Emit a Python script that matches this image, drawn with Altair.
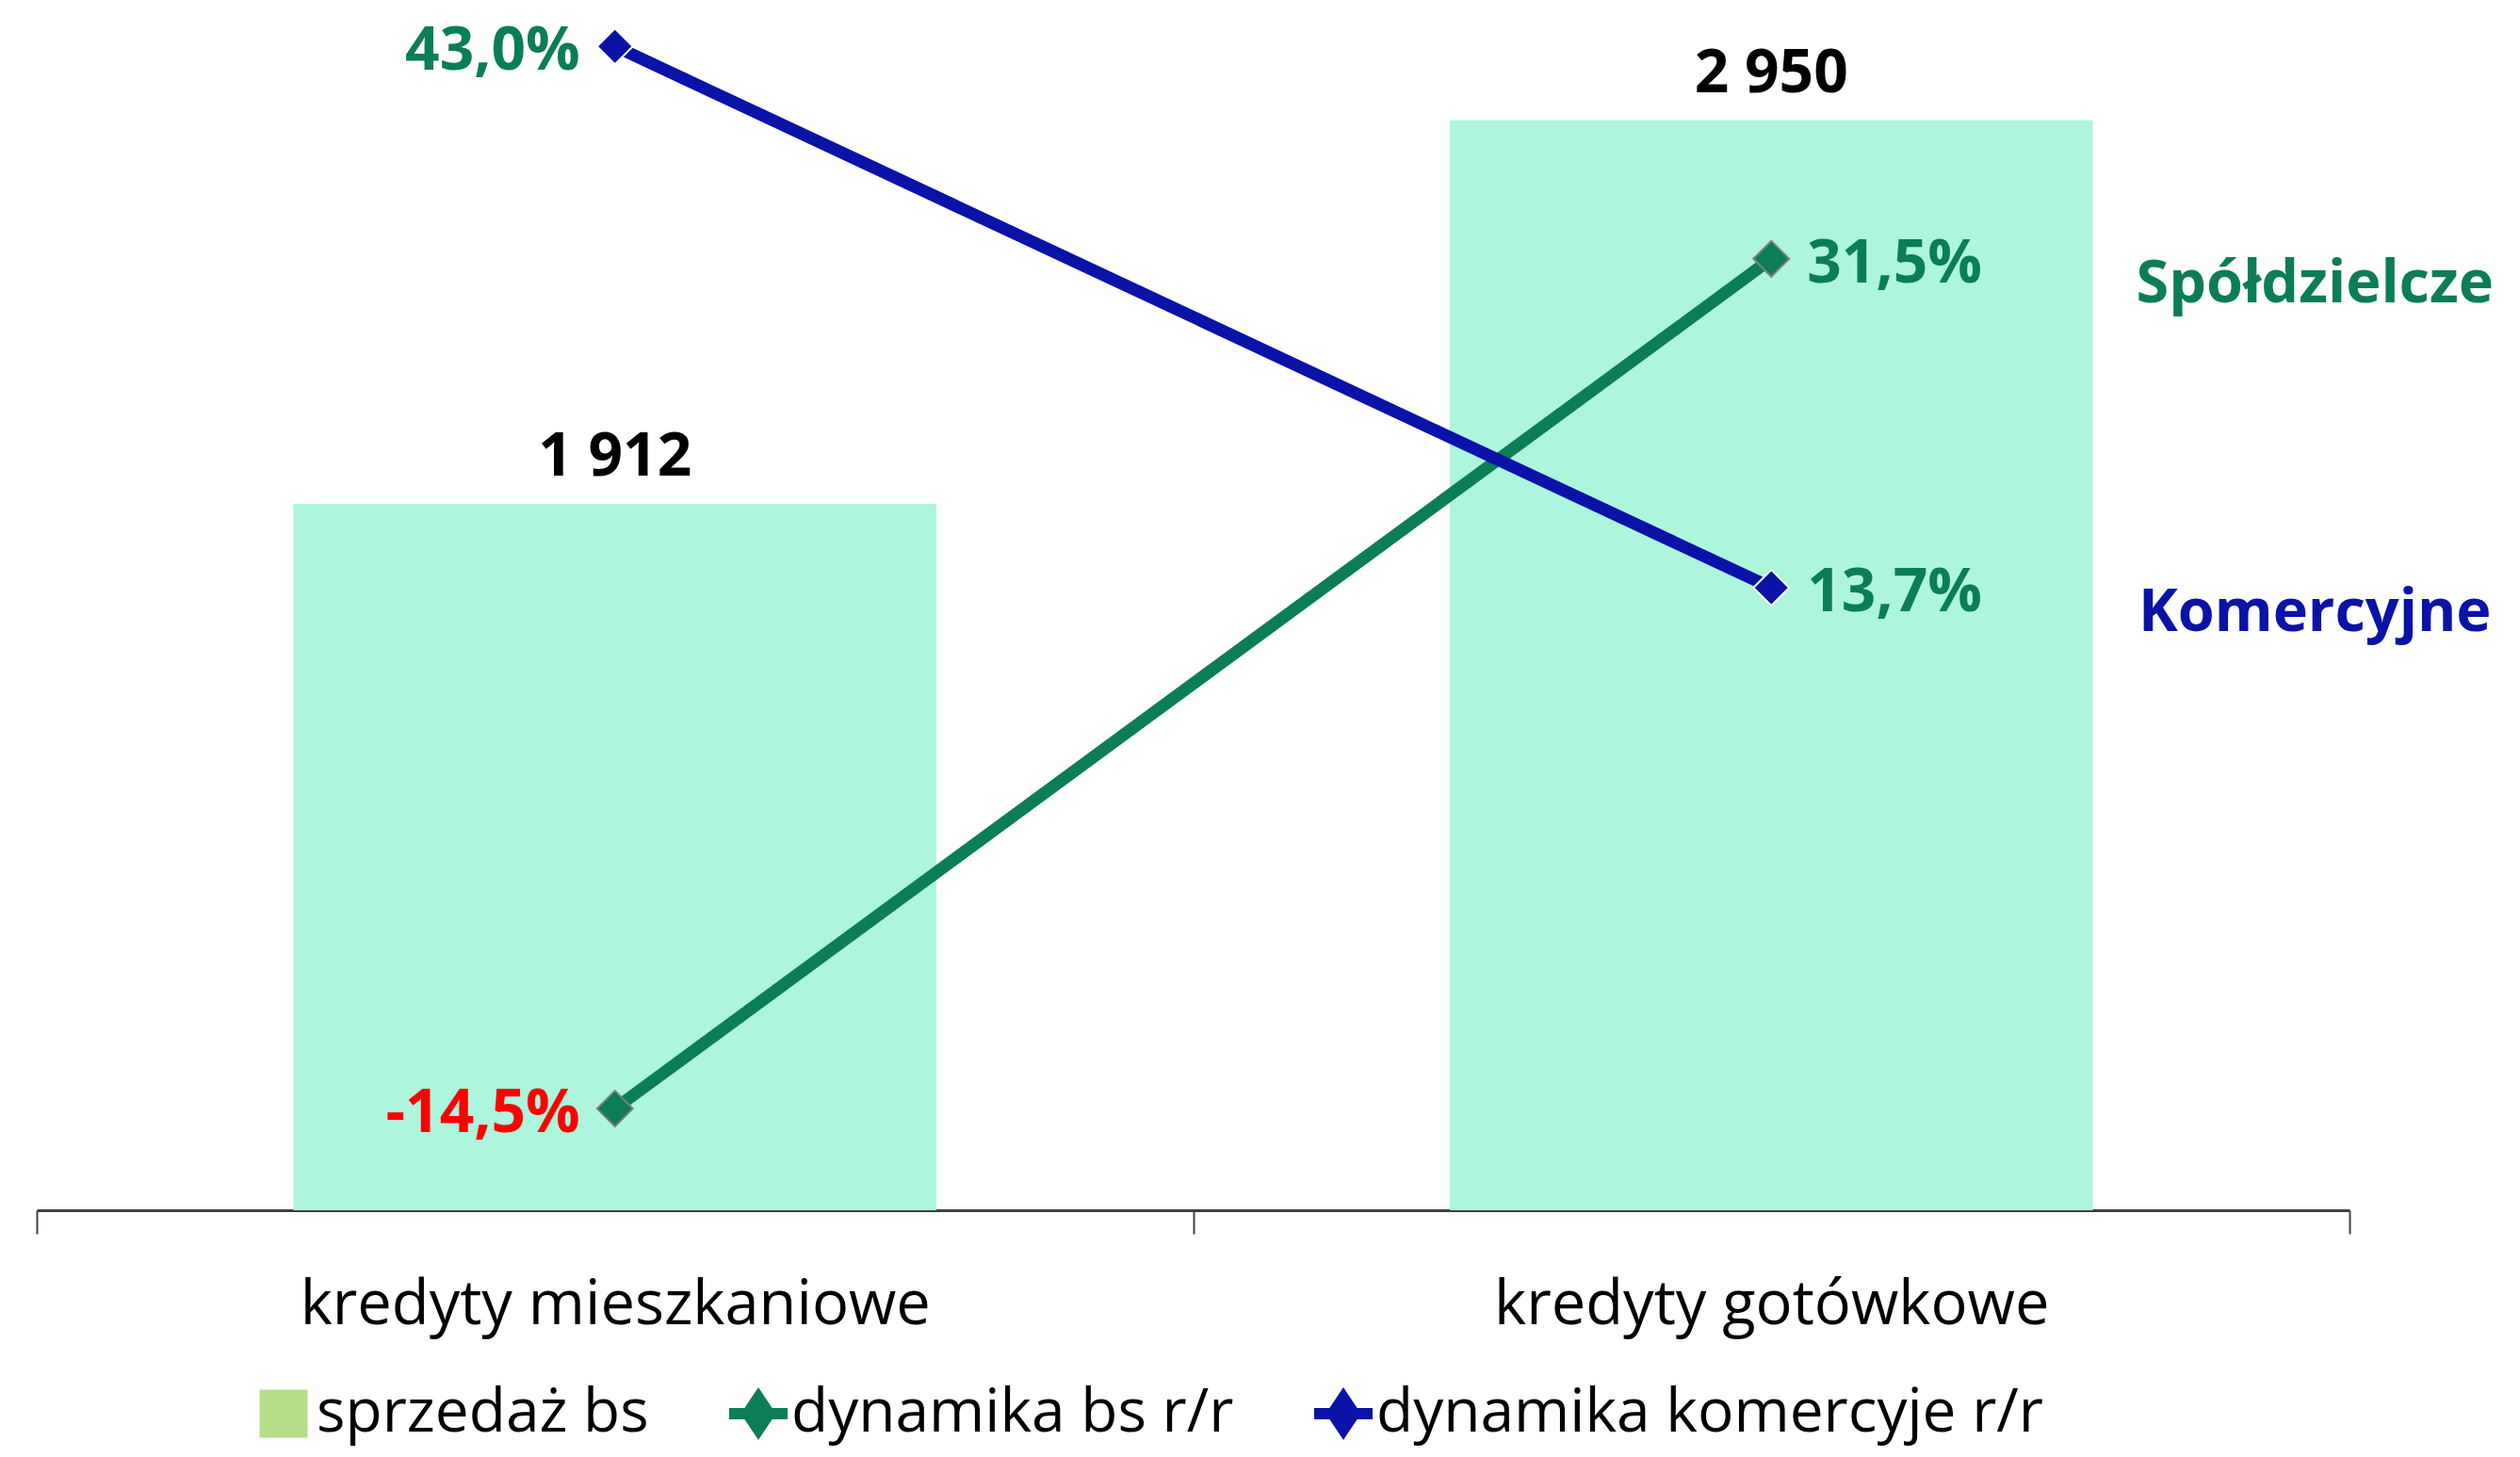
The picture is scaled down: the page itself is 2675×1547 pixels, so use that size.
import altair as alt
import pandas as pd

# ---------------- data ----------------
categories = ["kredyty mieszkaniowe", "kredyty gotówkowe"]
sales_bs = [1912, 2950]                 # sprzedaż bs (bars)
dyn_bs = [-14.5, 31.5]                  # dynamika bs r/r (%)
dyn_kom = [43.0, 13.7]                  # dynamika komercyje r/r (%)
line_series = ["dynamika bs r/r", "dynamika komercyje r/r"]
legend_names = ["sprzedaż bs", "dynamika bs r/r", "dynamika komercyje r/r"]
annotations = ["Spółdzielcze", "Komercyjne"]

# ---------------- styles ----------------
GREEN = "#0B7D57"
BLUE = "#0A12A8"
MINT = "#ADF5DC"
SWATCH = "#B7DE88"
RED = "#FF0000"
FONT = "Open Sans"
W, H = 2455, 1275

bars_df = pd.DataFrame({"cat": categories, "value": sales_bs})
bars_df["label"] = [f"{v:,}".replace(",", " ") for v in sales_bs]

rows = []
for s, ann, vals in zip(line_series, annotations, [dyn_bs, dyn_kom]):
    for c, v in zip(categories, vals):
        rows.append({"cat": c, "series": s, "ann": ann, "value": v,
                     "label": f"{v:.1f}".replace(".", ",") + "%"})
lines_df = pd.DataFrame(rows)
legend_df = pd.DataFrame({"series": legend_names})

x_axis = alt.Axis(title=None, labelAngle=0, labelFont=FONT, labelFontSize=65,
                  labelColor="black", labelPadding=95, labelBaseline="alphabetic",
                  tickSize=25, tickWidth=2, tickColor="#404040",
                  domainColor="#404040", domainWidth=3, tickBand="extent",
                  grid=False, labelLimit=0)
x_enc = alt.X("cat:N", sort=categories,
              scale=alt.Scale(paddingInner=0, paddingOuter=0), axis=x_axis)
y_bar = alt.Y("value:Q", scale=alt.Scale(domain=[0, 3250]), axis=None)
y_line = alt.Y("value:Q", scale=alt.Scale(domain=[-20, 45]), axis=None)

bars = alt.Chart(bars_df).mark_bar(color=MINT, width={"band": 0.556}).encode(x=x_enc, y=y_bar)
bar_labels = alt.Chart(bars_df).mark_text(
    baseline="alphabetic", dy=-30, font=FONT, fontSize=64, fontWeight="bold", color="black"
).encode(x=x_enc, y=y_bar, text="label:N")

def series_line(name, color):
    return alt.Chart(lines_df).transform_filter(alt.datum.series == name).mark_line(
        strokeWidth=13, color=color).encode(x=x_enc, y=y_line)

def series_marker(name, color, outline):
    return alt.Chart(lines_df).transform_filter(alt.datum.series == name).mark_point(
        shape="diamond", filled=True, size=1444, fill=color, stroke=outline,
        strokeWidth=2, opacity=1).encode(x=x_enc, y=y_line)

label_color = alt.condition(alt.datum.value < 0, alt.value(RED), alt.value(GREEN))
pct_left = alt.Chart(lines_df).transform_filter(alt.datum.cat == categories[0]).mark_text(
    align="right", baseline="alphabetic", dx=-37, dy=25, font=FONT, fontSize=64,
    fontWeight="bold").encode(x=x_enc, y=y_line, text="label:N", color=label_color)
pct_right = alt.Chart(lines_df).transform_filter(alt.datum.cat == categories[1]).mark_text(
    align="left", baseline="alphabetic", dx=38, dy=25, font=FONT, fontSize=64,
    fontWeight="bold").encode(x=x_enc, y=y_line, text="label:N", color=label_color)

def annotation(name, color):
    return alt.Chart(lines_df).transform_filter(
        (alt.datum.cat == categories[1]) & (alt.datum.series == name)
    ).mark_text(align="center", baseline="alphabetic", dx=577, dy=46, font=FONT,
                fontSize=63, fontWeight="bold", color=color).encode(
        x=x_enc, y=y_line, text="ann:N")

sq_path = "M-0.823,-0.823H0.823V0.823H-0.823Z"
ln_path = "M-1,-0.19H-0.473L0,-0.9L0.473,-0.19H1V0.19H0.473L0,0.9L-0.473,0.19H-1Z"
leg = alt.Legend(orient="none", legendX=230, legendY=1459, direction="horizontal",
                 title=None, labelFont=FONT, labelFontSize=64, labelColor="black",
                 symbolSize=3844, symbolStrokeWidth=0, labelOffset=3, columnPadding=84,
                 labelLimit=0, symbolOpacity=1)
legend_layer = alt.Chart(legend_df).transform_filter(alt.datum.series == "__none__").mark_point(
    filled=True, size=3844, strokeWidth=0).encode(
    x=x_enc,
    y=alt.Y("series:N", axis=None),
    color=alt.Color("series:N", scale=alt.Scale(domain=legend_names, range=[SWATCH, GREEN, BLUE]),
                    legend=leg),
    shape=alt.Shape("series:N", scale=alt.Scale(domain=legend_names, range=[sq_path, ln_path, ln_path]),
                    legend=leg),
)

chart = alt.layer(
    bars, bar_labels,
    series_line(line_series[0], GREEN), series_line(line_series[1], BLUE),
    series_marker(line_series[0], GREEN, "#808080"), series_marker(line_series[1], BLUE, "#FFFFFF"),
    pct_left, pct_right,
    annotation(line_series[0], GREEN), annotation(line_series[1], BLUE),
    legend_layer,
).resolve_scale(y="independent").properties(
    width=W, height=H,
    background="white",
    autosize=alt.AutoSizeParams(type="none"),
    padding={"left": 31, "top": 2, "right": 165, "bottom": 254},
).configure_view(strokeWidth=0, stroke="transparent")

chart.save("out.html", embed_options={"renderer": "svg", "actions": False})
